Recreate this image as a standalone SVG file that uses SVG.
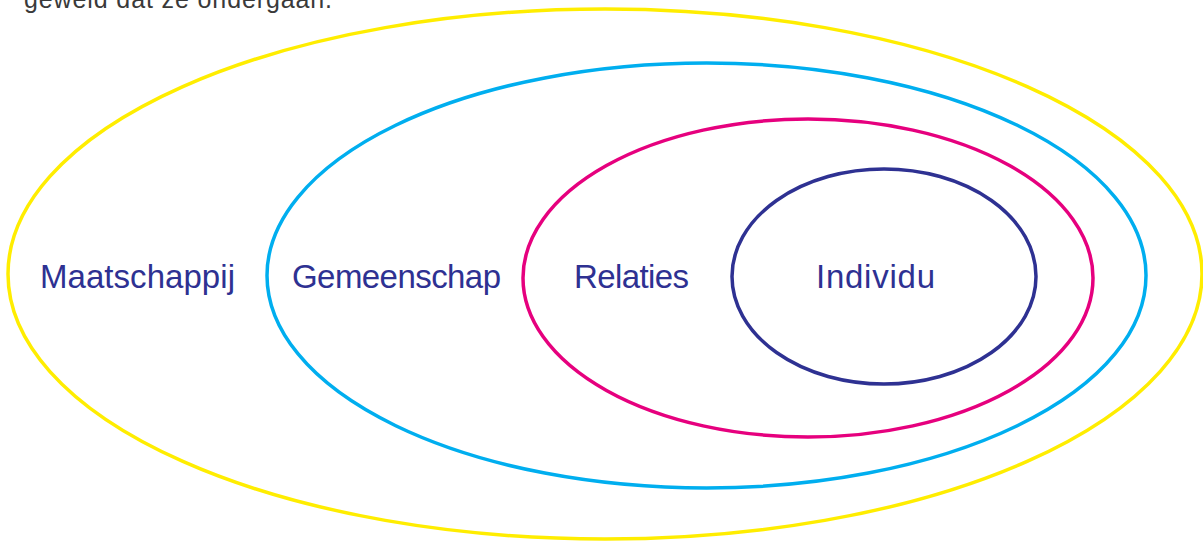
<svg xmlns="http://www.w3.org/2000/svg" width="1203" height="541" viewBox="0 0 1203 541">
<style>
.ring{fill:none;stroke-width:3.5}
.lbl{font-family:"Liberation Sans",Arial,sans-serif;font-size:33px;fill:#2e3192}
.top{font-family:"Liberation Sans",Arial,sans-serif;font-size:25px;fill:#3a3a3a}
</style>
<rect width="1203" height="541" fill="#fff"/>
<text class="top" x="24" y="8" textLength="308">geweld dat ze ondergaan.</text>
<g id="maatschappij">
<ellipse class="ring" cx="605" cy="274" rx="597" ry="265" stroke="#ffed00"/>
<text class="lbl" x="40" y="288" textLength="195">Maatschappij</text>
</g>
<g id="gemeenschap">
<ellipse class="ring" cx="706.5" cy="275.5" rx="439.5" ry="212.5" stroke="#00aeef"/>
<text class="lbl" x="292" y="288" textLength="209">Gemeenschap</text>
</g>
<g id="relaties">
<ellipse class="ring" cx="808" cy="278" rx="285" ry="159" stroke="#e6007e"/>
<text class="lbl" x="574" y="288" textLength="115">Relaties</text>
</g>
<g id="individu">
<ellipse class="ring" cx="884" cy="276.5" rx="152" ry="107.5" stroke="#2e3192"/>
<text class="lbl" x="816" y="288" textLength="119">Individu</text>
</g>
<g id="connectors"/>
</svg>
